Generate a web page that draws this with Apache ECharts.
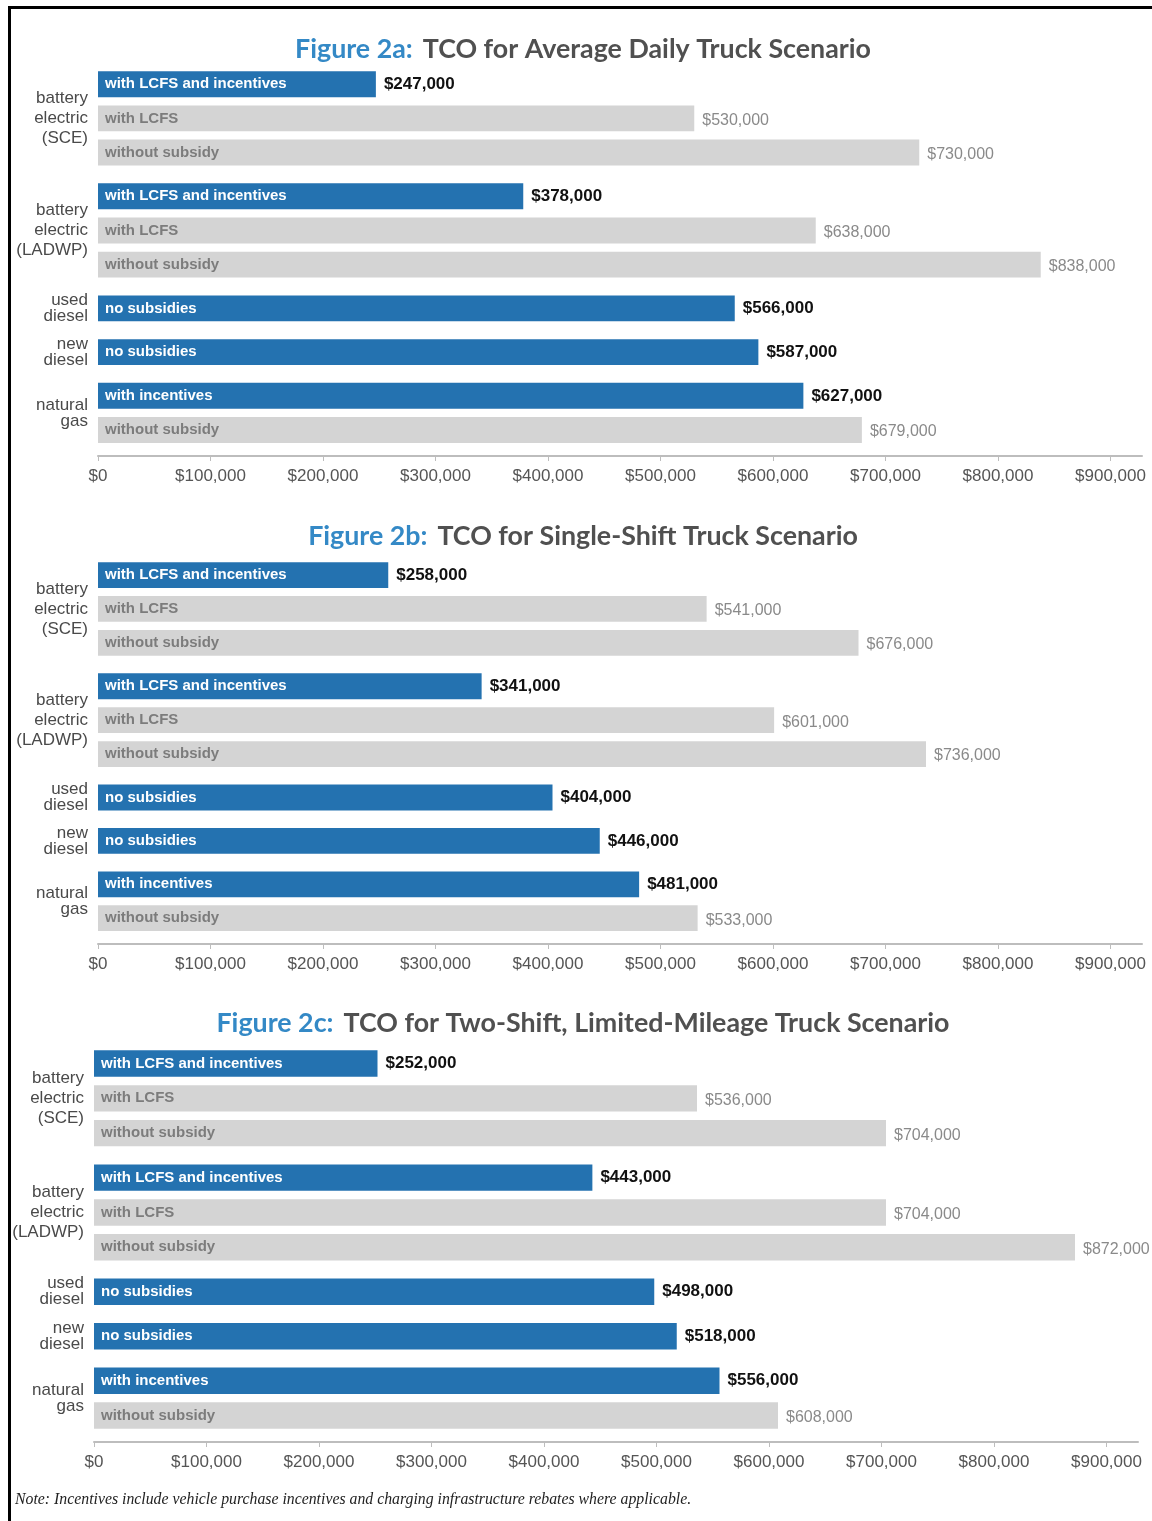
<!DOCTYPE html>
<html>
<head>
<meta charset="utf-8">
<title>TCO truck scenarios</title>
<script src="https://cdn.jsdelivr.net/npm/echarts@6.0.0/dist/echarts.min.js"></script>
<style>
  html, body { margin: 0; padding: 0; background: #fff; }
  #chart { width: 1152px; height: 1521px; }
</style>
</head>
<body>
<div id="chart"></div>
<script>
// --- data ---
const groupNames = ['battery\nelectric\n(SCE)', 'battery\nelectric\n(LADWP)', 'used\ndiesel', 'new\ndiesel', 'natural\ngas'];
const rowGroup = [0, 0, 0, 1, 1, 1, 2, 3, 4, 4];
const rowLabels = ['with LCFS and incentives', 'with LCFS', 'without subsidy',
  'with LCFS and incentives', 'with LCFS', 'without subsidy',
  'no subsidies', 'no subsidies', 'with incentives', 'without subsidy'];
// rows drawn in blue (the scenario each vehicle is compared on)
const rowFocus = [1, 0, 0, 1, 0, 0, 1, 1, 1, 0];

const tcoAverageDaily = [247000, 530000, 730000, 378000, 638000, 838000, 566000, 587000, 627000, 679000];
const tcoSingleShift = [258000, 541000, 676000, 341000, 601000, 736000, 404000, 446000, 481000, 533000];
const tcoTwoShift = [252000, 536000, 704000, 443000, 704000, 872000, 498000, 518000, 556000, 608000];

const figureIds = ['Figure 2a:', 'Figure 2b:', 'Figure 2c:'];
const figureTitles = ['TCO for Average Daily Truck Scenario', 'TCO for Single-Shift Truck Scenario',
  'TCO for Two-Shift, Limited-Mileage Truck Scenario'];
const xTicks = [0, 100000, 200000, 300000, 400000, 500000, 600000, 700000, 800000, 900000];

const noteText = 'Note: Incentives include vehicle purchase incentives and charging infrastructure rebates where applicable.';

// --- layout ---
const BLUE = '#2472b0';
const GRAY = '#d4d4d4';
const SANS = '"Liberation Sans", Arial, sans-serif';
const GROUP_GAP = 0.28;
const panels = [
  { values: tcoAverageDaily, top: 63, height: 393, left: 98, titleTop: 31 },
  { values: tcoSingleShift, top: 554, height: 390, left: 98, titleTop: 518 },
  { values: tcoTwoShift, top: 1042, height: 400, left: 94, titleTop: 1005 }
];

function rowPos(i) { return i + GROUP_GAP * rowGroup[i]; }
function money(v) { return '$' + v.toLocaleString('en-US'); }

function groupCenter(g) {
  const idx = [];
  rowGroup.forEach((gg, i) => { if (gg === g) idx.push(rowPos(i)); });
  return (idx[0] + idx[idx.length - 1]) / 2;
}

function renderBar(params, api) {
  const i = params.dataIndex;
  const v = api.value(0);
  const p = api.value(1);
  const focus = api.value(2) === 1;
  const a = api.coord([0, p]);
  const b = api.coord([v, p]);
  const h = api.size([0, 0.76])[1];
  return {
    type: 'group',
    children: [
      { type: 'rect', shape: { x: a[0], y: a[1] - h / 2, width: b[0] - a[0], height: h },
        style: { fill: focus ? BLUE : GRAY } },
      { type: 'text', x: a[0] + 7, y: a[1],
        style: { text: rowLabels[i], fill: focus ? '#fff' : '#7c7c7c', fontFamily: SANS,
          fontWeight: 'bold', fontSize: 15, align: 'left', verticalAlign: 'middle' } },
      { type: 'text', x: b[0] + 8, y: a[1] + (focus ? 0 : 2),
        style: { text: money(v), fill: focus ? '#111' : '#8a8a8a', fontFamily: SANS,
          fontWeight: focus ? 'bold' : 'normal', fontSize: focus ? 17 : 16,
          align: 'left', verticalAlign: 'middle' } }
    ]
  };
}

function renderGroup(params, api) {
  const c = api.coord([0, api.value(1)]);
  const name = groupNames[params.dataIndex];
  const lines = name.split('\n').length;
  return {
    type: 'text', x: c[0] - 10, y: c[1],
    style: { text: name, fill: '#4a4a4a', fontFamily: SANS, fontSize: 17,
      lineHeight: lines > 2 ? 20 : 16, align: 'right', verticalAlign: 'middle' }
  };
}

const option = {
  animation: false,
  backgroundColor: '#fff',
  title: panels.map((p, k) => ({
    text: '{a|' + figureIds[k] + '}  {b|' + figureTitles[k] + '}',
    left: 578, top: p.titleTop, textAlign: 'center',
    textStyle: {
      rich: {
        a: { fontFamily: 'Lato, "Open Sans", sans-serif', fontWeight: 'bold', fontSize: 26.8, color: '#3489c6' },
        b: { fontFamily: 'Lato, "Open Sans", sans-serif', fontWeight: 'bold', fontSize: 26.8, color: '#505050' }
      }
    }
  })),
  grid: panels.map(p => ({ left: p.left, width: 1044, top: p.top, height: p.height })),
  xAxis: panels.map((p, k) => ({
    type: 'value', gridIndex: k, min: 0, max: 928000, position: 'bottom',
    splitLine: { show: false },
    axisLine: { show: true, onZero: false, lineStyle: { color: '#bdbdbd', width: 2 } },
    axisTick: { show: true, customValues: xTicks, length: 5, lineStyle: { color: '#bdbdbd', width: 1 } },
    axisLabel: { customValues: xTicks, formatter: money, color: '#555', fontSize: 17,
      fontFamily: SANS, margin: 12 }
  })),
  yAxis: panels.map((p, k) => ({
    type: 'value', gridIndex: k, inverse: true, min: -0.62, max: 10.88, show: false
  })),
  series: panels.flatMap((p, k) => [
    {
      type: 'custom', name: 'bars' + k, xAxisIndex: k, yAxisIndex: k, clip: false,
      renderItem: renderBar,
      encode: { x: 0, y: 1 },
      data: p.values.map((v, i) => [v, rowPos(i), rowFocus[i]])
    },
    {
      type: 'custom', name: 'groups' + k, xAxisIndex: k, yAxisIndex: k, clip: false,
      renderItem: renderGroup,
      encode: { x: 0, y: 1 },
      data: groupNames.map((n, g) => [0, groupCenter(g)])
    }
  ]),
  graphic: [
    { type: 'line', shape: { x1: 8, y1: 7.5, x2: 1152, y2: 7.5 }, style: { stroke: '#000', lineWidth: 3 } },
    { type: 'line', shape: { x1: 9.5, y1: 6, x2: 9.5, y2: 1521 }, style: { stroke: '#000', lineWidth: 3 } },
    { type: 'text', left: 15, top: 1492,
      style: { text: noteText, fill: '#222', font: 'italic 15.8px "Liberation Serif", "Times New Roman", serif' } }
  ]
};

const myChart = echarts.init(document.getElementById('chart'));
myChart.setOption(option);
</script>
</body>
</html>
